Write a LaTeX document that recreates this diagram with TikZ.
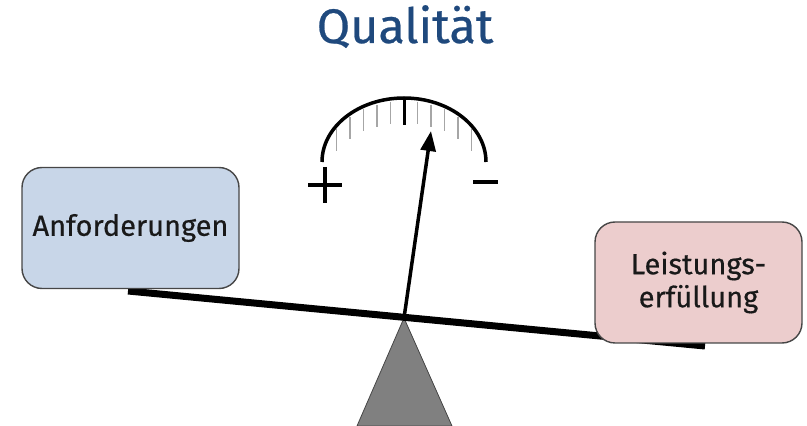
\documentclass[tikz,border=0pt]{standalone}
\usepackage{fontspec}
\setmainfont{Fira Sans}
\newfontfamily\panfont{Fira Sans}[FakeBold=0.5]
\usepackage{xcolor}
\usepackage{tikz}
\usetikzlibrary{arrows.meta}

\definecolor{titleblue}{RGB}{31,73,125}
\definecolor{reqfill}{RGB}{200,214,232}
\definecolor{perffill}{RGB}{236,205,205}
\definecolor{boxline}{RGB}{70,70,70}

\begin{document}
\begin{tikzpicture}[
  x=1pt,y=1pt,
  pan/.style={rectangle,rounded corners=20pt,draw=boxline,line width=1.4pt,minimum height=121pt,inner sep=0pt,align=center,text=black!90,font=\panfont\fontsize{29}{33}\selectfont},
  stand/.style={draw=boxline,line width=0.8pt,fill=gray},
  beam/.style={line width=7pt},
  needle/.style={-{Triangle[length=20pt,width=15pt]},line width=3.5pt},
  dial/.style={line width=3.5pt},
  tickmark/.style={draw=black!35,line width=1.2pt},
  sign/.style={line width=3.5pt}
]
  \useasboundingbox (0,0) rectangle (807,426);

  \node[anchor=base,text=titleblue,font=\panfont\fontsize{48.5}{48.5}\selectfont] (title) at (405,383) {Qualität};

  \coordinate (pivot) at (404,108);
  \coordinate (beamL) at (128,135);
  \coordinate (beamR) at (705,80);
  \coordinate (standL) at (357,0);
  \coordinate (standR) at (452,0);
  \coordinate (tip) at (431,295);
  \coordinate (gauge) at (404,264);

  % balance
  \draw[stand] (pivot) -- (standL) -- (standR) -- cycle;
  \draw[beam] (beamL) -- (beamR);
  \draw[needle] (pivot) -- (tip);

  % scale
  \draw[dial] ([xshift=-82pt]gauge) arc[start angle=180,end angle=0,x radius=82,y radius=64];
  \foreach \k in {-5,...,-1,1,2,...,5}{
    \pgfmathsetmacro\dx{13.5*\k}
    \pgfmathsetmacro\dy{64*sqrt(1-(\dx/82)^2)}
    \draw[tickmark] ({404+\dx},{261+\dy}) -- ++(0,-22);
  }
  \draw[line width=3pt] ([yshift=63pt]gauge) -- ++(0,-26);

  \draw[sign] (308,241) -- (342,241) (325,259) -- (325,223);
  \draw[sign,line width=4.5pt] (473,244) -- (498,244);

  \node[pan,fill=reqfill,minimum width=217pt] (req) at (130.5,198) {Anforderungen};
  \node[pan,fill=perffill,minimum width=207pt] (perf) at (698.5,143.5) {Leistungs-\\erfüllung};
\end{tikzpicture}
\end{document}
